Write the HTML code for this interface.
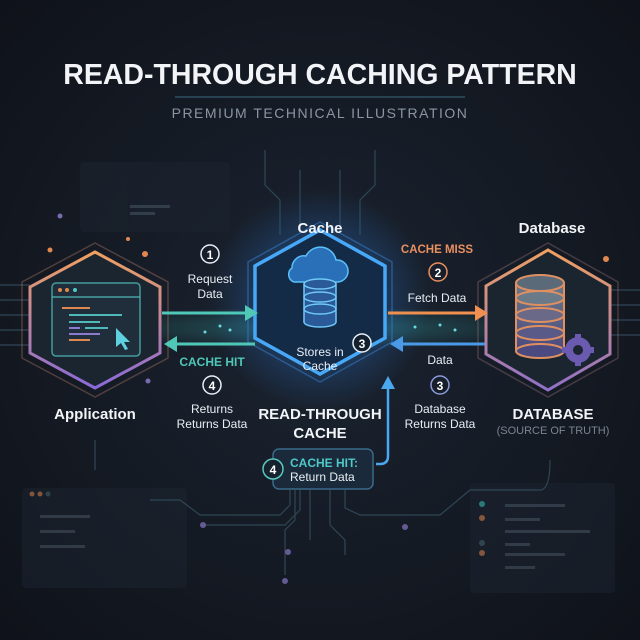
<!DOCTYPE html>
<html><head><meta charset="utf-8"><style>
html,body{margin:0;padding:0;background:#12161f}
svg{display:block}
text{font-family:"Liberation Sans",sans-serif}
</style></head><body>
<svg width="640" height="640" viewBox="0 0 640 640" xmlns="http://www.w3.org/2000/svg">
<defs>
<radialGradient id="bg" cx="50%" cy="50%" r="70%"><stop offset="0" stop-color="#1b2431"/><stop offset="1" stop-color="#0f1219"/></radialGradient>
<radialGradient id="glow" cx="50%" cy="50%" r="50%"><stop offset="0" stop-color="#2a7ad8" stop-opacity=".6"/><stop offset="1" stop-color="#2a7ad8" stop-opacity="0"/></radialGradient>
<radialGradient id="glowT" cx="50%" cy="50%" r="50%"><stop offset="0" stop-color="#3cc9c0" stop-opacity=".35"/><stop offset="1" stop-color="#3cc9c0" stop-opacity="0"/></radialGradient>
<linearGradient id="appS" x1="0" y1="0" x2="0" y2="1"><stop offset="0" stop-color="#f0a060"/><stop offset="1" stop-color="#8a6ad8"/></linearGradient>
<linearGradient id="dbS" x1="0" y1="0" x2="0" y2="1"><stop offset="0" stop-color="#f0a060"/><stop offset="1" stop-color="#9070c8"/></linearGradient>
<linearGradient id="cyl" x1="0" y1="0" x2="0" y2="1"><stop offset="0" stop-color="#6a7a8a"/><stop offset="1" stop-color="#4a4a80"/></linearGradient>
</defs>
<rect width="640" height="640" fill="url(#bg)"/>
<g opacity=".55">
<rect x="80" y="162" width="150" height="70" rx="4" fill="#1c2430"/>
<rect x="22" y="488" width="165" height="100" rx="4" fill="#1c2430"/>
<rect x="470" y="483" width="145" height="110" rx="4" fill="#1c2430"/>
<g fill="#4a5a68"><rect x="130" y="205" width="40" height="3"/><rect x="130" y="212" width="25" height="3"/><rect x="505" y="504" width="60" height="3"/><rect x="505" y="518" width="35" height="3"/><rect x="505" y="530" width="85" height="3"/><rect x="505" y="543" width="25" height="3"/><rect x="505" y="553" width="60" height="3"/><rect x="505" y="566" width="30" height="3"/><rect x="40" y="515" width="50" height="3"/><rect x="40" y="530" width="35" height="3"/><rect x="40" y="545" width="45" height="3"/></g>
<circle cx="482" cy="504" r="3" fill="#3cc9c0"/><circle cx="482" cy="518" r="3" fill="#e08850"/><circle cx="482" cy="553" r="3" fill="#e08850"/><circle cx="482" cy="543" r="3" fill="#4a6a78"/>
<circle cx="32" cy="494" r="2.5" fill="#e08850"/><circle cx="40" cy="494" r="2.5" fill="#e08850"/><circle cx="48" cy="494" r="2.5" fill="#4a6a78"/>
</g>
<g stroke="#2f4656" stroke-width="1.2" fill="none">
<path d="M280 235 V200 L265 185 V150"/><path d="M300 232 V170"/><path d="M340 232 V170"/><path d="M360 235 V200 L375 185 V150"/>
<path d="M295 490 V520 L285 530 V575"/><path d="M310 490 V540"/><path d="M330 490 V525 L345 540 V555"/><path d="M345 490 V508 L360 515 H440 L470 490 H540 Q550 490 550 460"/>
<path d="M290 490 V505 L280 515 H200 L180 500 L150 500"/><path d="M300 490 V510 L285 525 H205"/>
<path d="M0 285 H30 M0 300 H30 M0 315 H30 M0 330 H30 M0 345 H30"/>
<path d="M610 290 H640 M610 305 H640 M610 320 H640 M610 335 H640"/>
<path d="M95 440 V470"/>
</g>
<g fill="#7a6ab0" opacity=".8"><circle cx="203" cy="525" r="3"/><circle cx="405" cy="527" r="3"/><circle cx="285" cy="581" r="3"/><circle cx="288" cy="552" r="3"/></g>
<text x="320" y="84" text-anchor="middle" font-size="28.5" font-weight="bold" fill="#f2f4f7">READ-THROUGH CACHING PATTERN</text>
<line x1="175" y1="97" x2="465" y2="97" stroke="#3a6a80" stroke-width="1"/>
<text x="320" y="118" text-anchor="middle" font-size="14" letter-spacing="1.5" fill="#8a96a4">PREMIUM TECHNICAL ILLUSTRATION</text>
<ellipse cx="320" cy="328" rx="240" ry="22" fill="url(#glowT)"/>
<ellipse cx="320" cy="300" rx="110" ry="110" fill="url(#glow)"/>
<polygon points="95,243 168,282 168,358 95,397 22,358 22,282" fill="none" stroke="#c48470" stroke-opacity=".35" stroke-width="1.5"/>
<polygon points="95,252 160,287 160,353 95,388 30,353 30,287" fill="#1a2530" stroke="url(#appS)" stroke-width="3"/>
<rect x="52" y="283" width="88" height="73" rx="4" fill="#1f2e3a" stroke="#4fb8b8" stroke-width="1.5" stroke-opacity=".8"/>
<line x1="52" y1="297" x2="140" y2="297" stroke="#4fb8b8" stroke-width="1.2"/>
<circle cx="60" cy="290" r="2" fill="#e08850"/><circle cx="67" cy="290" r="2" fill="#e08850"/><circle cx="75" cy="290" r="2" fill="#4fc8c0"/>
<g stroke-width="2"><line x1="62" y1="308" x2="90" y2="308" stroke="#e08850"/><line x1="69" y1="315" x2="122" y2="315" stroke="#4fb8b8"/><line x1="69" y1="322" x2="100" y2="322" stroke="#4fb8b8"/><line x1="69" y1="328" x2="80" y2="328" stroke="#8a7ad0"/><line x1="85" y1="328" x2="108" y2="328" stroke="#4fb8b8"/><line x1="69" y1="334" x2="100" y2="334" stroke="#8a7ad0"/><line x1="69" y1="340" x2="90" y2="340" stroke="#e08850"/></g>
<polygon points="116,328 130,342 124,342 128,349 125,350 121,343 116,347" fill="#5fd0e0"/>
<text x="95" y="419" text-anchor="middle" font-size="15" font-weight="bold" fill="#f2f4f7">Application</text>
<polygon points="320,222 392,262 392,342 320,382 248,342 248,262" fill="none" stroke="#3a80d0" stroke-opacity=".5" stroke-width="1.5"/>
<polygon points="320,230 385,266 385,338 320,374 255,338 255,266" fill="#142b48" stroke="#48a8f8" stroke-width="3.5"/>
<path d="M292 268 a12 12 0 0 1 14 -12 a16 16 0 0 1 30 4 a11 11 0 0 1 2 22 h-44 a8 8 0 0 1 -2 -14z" fill="#2a70b8" stroke="#5ac0f8" stroke-width="1.5"/>
<g fill="#2a5a98" stroke="#70c8f8" stroke-width="1.5"><ellipse cx="320" cy="322" rx="16" ry="5"/><rect x="304" y="284" width="32" height="38" stroke="none"/><ellipse cx="320" cy="309" rx="16" ry="5"/><ellipse cx="320" cy="297" rx="16" ry="5"/><ellipse cx="320" cy="284" rx="16" ry="5"/></g>
<line x1="304" y1="284" x2="304" y2="322" stroke="#70c8f8" stroke-width="1.5"/><line x1="336" y1="284" x2="336" y2="322" stroke="#70c8f8" stroke-width="1.5"/>
<text x="320" y="356" text-anchor="middle" font-size="12" fill="#e8eef4">Stores in</text>
<text x="320" y="370" text-anchor="middle" font-size="12" fill="#e8eef4">Cache</text>
<circle cx="362" cy="343" r="9" fill="#122030" stroke="#e8eef4" stroke-width="1.5"/><text x="362" y="348" text-anchor="middle" font-size="12" font-weight="bold" fill="#fff">3</text>
<text x="320" y="233" text-anchor="middle" font-size="15" font-weight="bold" fill="#f2f4f7">Cache</text>
<text x="320" y="419" text-anchor="middle" font-size="15" font-weight="bold" fill="#f2f4f7">READ-THROUGH</text>
<text x="320" y="438" text-anchor="middle" font-size="15" font-weight="bold" fill="#f2f4f7">CACHE</text>
<polygon points="548,243 618,282 618,358 548,397 478,358 478,282" fill="none" stroke="#a07a80" stroke-opacity=".35" stroke-width="1.5"/>
<polygon points="548,250 610,286 610,354 548,390 486,354 486,286" fill="#1a2530" stroke="url(#dbS)" stroke-width="3"/>
<g stroke="#e09060" stroke-width="2"><rect x="516" y="283" width="48" height="68" fill="url(#cyl)" stroke="none"/><ellipse cx="540" cy="351" rx="24" ry="7" fill="#4a4a80"/><ellipse cx="540" cy="333" rx="24" ry="7" fill="#5a5a88"/><ellipse cx="540" cy="315" rx="24" ry="7" fill="#6a6a88"/><ellipse cx="540" cy="298" rx="24" ry="7" fill="#6a7a88"/><ellipse cx="540" cy="283" rx="24" ry="8" fill="#5a6a78"/><line x1="516" y1="283" x2="516" y2="351"/><line x1="564" y1="283" x2="564" y2="351"/></g>
<circle cx="578" cy="350" r="13" fill="#6a5ab0"/><circle cx="578" cy="350" r="5" fill="#1a2530"/>
<g fill="#6a5ab0"><rect x="575" y="334" width="6" height="6"/><rect x="575" y="360" width="6" height="6"/><rect x="562" y="347" width="6" height="6"/><rect x="588" y="347" width="6" height="6"/></g>
<text x="552" y="233" text-anchor="middle" font-size="15" font-weight="bold" fill="#f2f4f7">Database</text>
<text x="553" y="419" text-anchor="middle" font-size="15" font-weight="bold" fill="#f2f4f7">DATABASE</text>
<text x="553" y="434" text-anchor="middle" font-size="11" fill="#7a8490">(SOURCE OF TRUTH)</text>
<line x1="162" y1="313" x2="250" y2="313" stroke="#50c8b8" stroke-width="3"/><polygon points="258,313 245,305 245,321" fill="#50c8b8"/>
<line x1="172" y1="344" x2="255" y2="344" stroke="#50c8b8" stroke-width="3"/><polygon points="164,344 177,336 177,352" fill="#50c8b8"/>
<line x1="388" y1="313" x2="480" y2="313" stroke="#f09050" stroke-width="3"/><polygon points="488,313 475,305 475,321" fill="#f09050"/>
<line x1="398" y1="344" x2="485" y2="344" stroke="#4a9ae8" stroke-width="3"/><polygon points="390,344 403,336 403,352" fill="#4a9ae8"/>
<path d="M376 464 H380 Q388 464 388 456 V384" stroke="#4aa8f0" stroke-width="2.5" fill="none"/><polygon points="388,376 381,389 395,389" fill="#4aa8f0"/>
<circle cx="210" cy="254" r="9" fill="none" stroke="#e8eef4" stroke-width="1.5"/><text x="210" y="259" text-anchor="middle" font-size="12" font-weight="bold" fill="#fff">1</text>
<text x="210" y="283" text-anchor="middle" font-size="12" fill="#e8eef4">Request</text>
<text x="210" y="298" text-anchor="middle" font-size="12" fill="#e8eef4">Data</text>
<text x="212" y="366" text-anchor="middle" font-size="12" font-weight="bold" fill="#4ec8b8">CACHE HIT</text>
<circle cx="212" cy="385" r="9" fill="none" stroke="#e8eef4" stroke-width="1.5"/><text x="212" y="390" text-anchor="middle" font-size="12" font-weight="bold" fill="#fff">4</text>
<text x="212" y="413" text-anchor="middle" font-size="12" fill="#e8eef4">Returns</text>
<text x="212" y="428" text-anchor="middle" font-size="12" fill="#e8eef4">Returns Data</text>
<text x="437" y="253" text-anchor="middle" font-size="11.5" font-weight="bold" fill="#e89060">CACHE MISS</text>
<circle cx="438" cy="272" r="9" fill="none" stroke="#e89060" stroke-width="1.5"/><text x="438" y="277" text-anchor="middle" font-size="12" font-weight="bold" fill="#fff">2</text>
<text x="437" y="302" text-anchor="middle" font-size="12" fill="#e8eef4">Fetch Data</text>
<text x="440" y="364" text-anchor="middle" font-size="12" fill="#e8eef4">Data</text>
<circle cx="440" cy="385" r="9" fill="none" stroke="#8a9ad8" stroke-width="1.5"/><text x="440" y="390" text-anchor="middle" font-size="12" font-weight="bold" fill="#fff">3</text>
<text x="440" y="413" text-anchor="middle" font-size="12" fill="#e8eef4">Database</text>
<text x="440" y="428" text-anchor="middle" font-size="12" fill="#e8eef4">Returns Data</text>
<rect x="273" y="449" width="100" height="40" rx="6" fill="#1a2a3a" stroke="#3a6a88" stroke-width="1.5"/>
<circle cx="273" cy="469" r="10" fill="#16222e" stroke="#5ac8c0" stroke-width="1.5"/><text x="273" y="474" text-anchor="middle" font-size="12" font-weight="bold" fill="#fff">4</text>
<text x="290" y="467" font-size="12" font-weight="bold" fill="#4ec8c8">CACHE HIT:</text>
<text x="290" y="481" font-size="12" fill="#e8eef4">Return Data</text>
<g fill="#e08850"><circle cx="50" cy="250" r="2.5"/><circle cx="128" cy="239" r="2"/><circle cx="145" cy="254" r="3"/><circle cx="606" cy="259" r="3"/></g>
<g fill="#7a6ab0"><circle cx="148" cy="381" r="2.5"/><circle cx="60" cy="216" r="2.5"/></g>
<g fill="#6ad8e0"><circle cx="205" cy="332" r="1.5"/><circle cx="220" cy="326" r="1.5"/><circle cx="230" cy="330" r="1.5"/><circle cx="415" cy="327" r="1.5"/><circle cx="440" cy="325" r="1.5"/><circle cx="455" cy="330" r="1.5"/></g>
</svg>
</body></html>
